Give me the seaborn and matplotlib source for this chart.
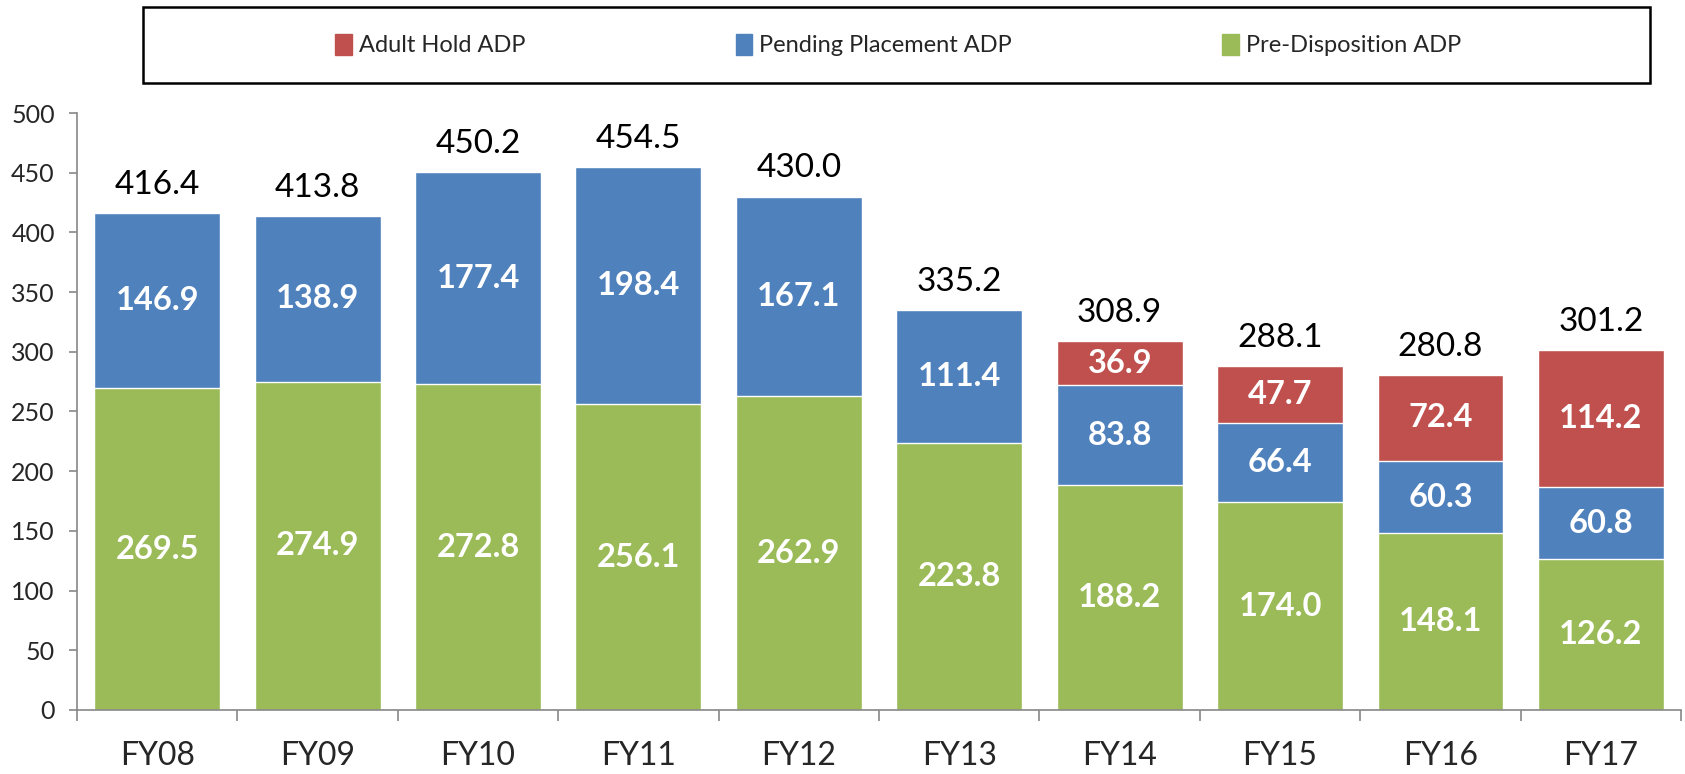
import numpy as np
import pandas as pd
import matplotlib
matplotlib.use("Agg")
import matplotlib.pyplot as plt
import seaborn as sns
from matplotlib.patches import Patch, Rectangle

years = ["FY08", "FY09", "FY10", "FY11", "FY12", "FY13", "FY14", "FY15", "FY16", "FY17"]
pre_disposition = [269.5, 274.9, 272.8, 256.1, 262.9, 223.8, 188.2, 174.0, 148.1, 126.2]
pending_placement = [146.9, 138.9, 177.4, 198.4, 167.1, 111.4, 83.8, 66.4, 60.3, 60.8]
adult_hold = [0, 0, 0, 0, 0, 0, 36.9, 47.7, 72.4, 114.2]
totals = [416.4, 413.8, 450.2, 454.5, 430.0, 335.2, 308.9, 288.1, 280.8, 301.2]

RED = "#C0504D"
BLUE = "#4F81BD"
GREEN = "#9BBB59"

sns.set_theme(style="white")
plt.rcParams["font.family"] = ["Lato", "DejaVu Sans"]

df = pd.DataFrame({
    "year": years,
    "pre": pre_disposition,
    "pending": pending_placement,
    "adult": adult_hold,
})
df["pend_top"] = df["pre"] + df["pending"]
df["adult_top"] = df["pend_top"] + df["adult"]

fig = plt.figure(figsize=(16.85, 7.74), dpi=100)
ax = fig.add_axes([0.0457, 0.0827, 0.952, 0.7713])

# stacked by overlaying cumulative heights
sns.barplot(data=df, x="year", y="adult_top", color=RED, saturation=1, width=0.785, ax=ax)
sns.barplot(data=df, x="year", y="pend_top", color=BLUE, saturation=1, width=0.785, ax=ax)
sns.barplot(data=df, x="year", y="pre", color=GREEN, saturation=1, width=0.785, ax=ax)

lab = dict(ha="center", va="center", color="white", fontsize=23.5, fontweight="bold")
for i in range(len(years)):
    ax.text(i, df["pre"][i] / 2, f"{df['pre'][i]:.1f}", **lab)
    ax.text(i, df["pre"][i] + df["pending"][i] / 2, f"{df['pending'][i]:.1f}", **lab)
    if df["adult"][i] > 0:
        ax.text(i, df["pend_top"][i] + df["adult"][i] / 2, f"{df['adult'][i]:.1f}", **lab)
    ax.text(i, totals[i] + 11, f"{totals[i]:.1f}", ha="center", va="bottom",
            color="black", fontsize=24)

ax.set_ylim(0, 500)
ax.set_xlim(-0.5, len(years) - 0.5)
ax.set_yticks(range(0, 501, 50))
ax.set_xlabel("")
ax.set_ylabel("")
ax.tick_params(axis="y", labelsize=18, length=6, width=1.2, color="#888888", direction="out", pad=10, left=True)
ax.tick_params(axis="x", labelsize=23, length=0, pad=22)
# x tick marks between categories
ax.set_xticks(np.arange(-0.5, len(years), 1), minor=True)
ax.tick_params(axis="x", which="minor", length=8, width=1.2, color="#888888", bottom=True)

for side in ["top", "right"]:
    ax.spines[side].set_visible(False)
for side in ["left", "bottom"]:
    ax.spines[side].set_color("#888888")
    ax.spines[side].set_linewidth(1.2)

# legend box drawn by hand, legend entries centred inside
box = Rectangle((0.0849, 0.893), 0.8944, 0.098, transform=fig.transFigure,
                fill=False, edgecolor="black", linewidth=1.8)
fig.add_artist(box)
handles = [Patch(color=RED, label="Adult Hold ADP"),
           Patch(color=BLUE, label="Pending Placement ADP"),
           Patch(color=GREEN, label="Pre-Disposition ADP")]
fig.legend(handles=handles, loc="center", ncol=3, bbox_to_anchor=(0.533, 0.942),
           frameon=False, fontsize=17, handlelength=0.7, handleheight=1.0,
           handletextpad=0.3, columnspacing=8.9)

fig.savefig("out.png", dpi=100)
